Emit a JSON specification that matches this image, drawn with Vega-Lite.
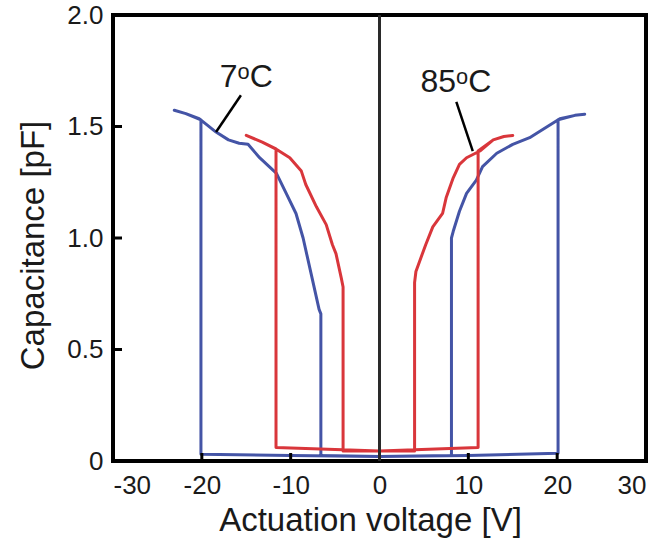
{
  "$schema": "https://vega.github.io/schema/vega-lite/v6.json",
  "width": 533,
  "height": 446,
  "autosize": {"type": "none"},
  "padding": {"left": 113, "top": 15, "right": 16, "bottom": 85},
  "background": "white",
  "config": {
    "font": "Liberation Sans",
    "view": {"stroke": "black", "strokeWidth": 4},
    "axis": {
      "grid": false,
      "domain": false,
      "ticks": false,
      "labelFont": "Liberation Sans",
      "labelFontSize": 26,
      "labelColor": "#1a1a1a",
      "titleFont": "Liberation Sans",
      "titleFontSize": 33,
      "titleFontWeight": "normal",
      "titleColor": "#1a1a1a"
    }
  },
  "datasets": {
    "curves": [
      {"series": "7 °C", "step": 1, "v": 0, "c": 0.02},
      {"series": "7 °C", "step": 2, "v": 10, "c": 0.025},
      {"series": "7 °C", "step": 3, "v": 20.1, "c": 0.035},
      {"series": "7 °C", "step": 4, "v": 20.1, "c": 1.53},
      {"series": "7 °C", "step": 5, "v": 22.0, "c": 1.55},
      {"series": "7 °C", "step": 6, "v": 23.1, "c": 1.555},
      {"series": "7 °C", "step": 7, "v": 22.0, "c": 1.55},
      {"series": "7 °C", "step": 8, "v": 20.3, "c": 1.535},
      {"series": "7 °C", "step": 9, "v": 17.7, "c": 1.47},
      {"series": "7 °C", "step": 10, "v": 16.9, "c": 1.45},
      {"series": "7 °C", "step": 11, "v": 15.0, "c": 1.42},
      {"series": "7 °C", "step": 12, "v": 13.2, "c": 1.38},
      {"series": "7 °C", "step": 13, "v": 11.6, "c": 1.32},
      {"series": "7 °C", "step": 14, "v": 10.9, "c": 1.26},
      {"series": "7 °C", "step": 15, "v": 9.8, "c": 1.2},
      {"series": "7 °C", "step": 16, "v": 9.0, "c": 1.12},
      {"series": "7 °C", "step": 17, "v": 8.3, "c": 1.03},
      {"series": "7 °C", "step": 18, "v": 8.1, "c": 1.0},
      {"series": "7 °C", "step": 19, "v": 8.1, "c": 0.025},
      {"series": "7 °C", "step": 20, "v": 0, "c": 0.02},
      {"series": "7 °C", "step": 21, "v": -10, "c": 0.025},
      {"series": "7 °C", "step": 22, "v": -20.1, "c": 0.03},
      {"series": "7 °C", "step": 23, "v": -20.1, "c": 1.53},
      {"series": "7 °C", "step": 24, "v": -21.8, "c": 1.558},
      {"series": "7 °C", "step": 25, "v": -23.1, "c": 1.573},
      {"series": "7 °C", "step": 26, "v": -21.8, "c": 1.558},
      {"series": "7 °C", "step": 27, "v": -20.3, "c": 1.535},
      {"series": "7 °C", "step": 28, "v": -18.4, "c": 1.475},
      {"series": "7 °C", "step": 29, "v": -17.0, "c": 1.44},
      {"series": "7 °C", "step": 30, "v": -15.8, "c": 1.425},
      {"series": "7 °C", "step": 31, "v": -14.8, "c": 1.42},
      {"series": "7 °C", "step": 32, "v": -13.5, "c": 1.36},
      {"series": "7 °C", "step": 33, "v": -11.6, "c": 1.29},
      {"series": "7 °C", "step": 34, "v": -10.5, "c": 1.2},
      {"series": "7 °C", "step": 35, "v": -9.4, "c": 1.11},
      {"series": "7 °C", "step": 36, "v": -8.6, "c": 1.0},
      {"series": "7 °C", "step": 37, "v": -7.7, "c": 0.84},
      {"series": "7 °C", "step": 38, "v": -6.8, "c": 0.68},
      {"series": "7 °C", "step": 39, "v": -6.6, "c": 0.66},
      {"series": "7 °C", "step": 40, "v": -6.6, "c": 0.025},
      {"series": "7 °C", "step": 41, "v": 0, "c": 0.02},

      {"series": "85 °C", "step": 1, "v": 0, "c": 0.045},
      {"series": "85 °C", "step": 2, "v": 11.1, "c": 0.06},
      {"series": "85 °C", "step": 3, "v": 11.1, "c": 1.39},
      {"series": "85 °C", "step": 4, "v": 12.8, "c": 1.44},
      {"series": "85 °C", "step": 5, "v": 14.0, "c": 1.455},
      {"series": "85 °C", "step": 6, "v": 15.0, "c": 1.46},
      {"series": "85 °C", "step": 7, "v": 14.0, "c": 1.455},
      {"series": "85 °C", "step": 8, "v": 12.8, "c": 1.44},
      {"series": "85 °C", "step": 9, "v": 11.3, "c": 1.39},
      {"series": "85 °C", "step": 10, "v": 9.8, "c": 1.36},
      {"series": "85 °C", "step": 11, "v": 9.0, "c": 1.33},
      {"series": "85 °C", "step": 12, "v": 8.3, "c": 1.27},
      {"series": "85 °C", "step": 13, "v": 7.5, "c": 1.18},
      {"series": "85 °C", "step": 14, "v": 7.1, "c": 1.11},
      {"series": "85 °C", "step": 15, "v": 6.0, "c": 1.05},
      {"series": "85 °C", "step": 16, "v": 5.2, "c": 0.97},
      {"series": "85 °C", "step": 17, "v": 4.1, "c": 0.85},
      {"series": "85 °C", "step": 18, "v": 3.95, "c": 0.8},
      {"series": "85 °C", "step": 19, "v": 3.95, "c": 0.045},
      {"series": "85 °C", "step": 20, "v": 0, "c": 0.045},
      {"series": "85 °C", "step": 21, "v": -11.65, "c": 0.06},
      {"series": "85 °C", "step": 22, "v": -11.65, "c": 1.4},
      {"series": "85 °C", "step": 23, "v": -13.2, "c": 1.43},
      {"series": "85 °C", "step": 24, "v": -15.0, "c": 1.46},
      {"series": "85 °C", "step": 25, "v": -13.2, "c": 1.43},
      {"series": "85 °C", "step": 26, "v": -11.7, "c": 1.4},
      {"series": "85 °C", "step": 27, "v": -10.1, "c": 1.36},
      {"series": "85 °C", "step": 28, "v": -8.8, "c": 1.3},
      {"series": "85 °C", "step": 29, "v": -8.3, "c": 1.24},
      {"series": "85 °C", "step": 30, "v": -7.1, "c": 1.14},
      {"series": "85 °C", "step": 31, "v": -6.0, "c": 1.06},
      {"series": "85 °C", "step": 32, "v": -5.3, "c": 0.97},
      {"series": "85 °C", "step": 33, "v": -4.9, "c": 0.93},
      {"series": "85 °C", "step": 34, "v": -4.3, "c": 0.82},
      {"series": "85 °C", "step": 35, "v": -4.1, "c": 0.78},
      {"series": "85 °C", "step": 36, "v": -4.1, "c": 0.045},
      {"series": "85 °C", "step": 37, "v": 0, "c": 0.045}
    ],
    "labels": [
      {"text": "7ᵒC", "v": -15.0, "c": 1.72},
      {"text": "85ᵒC", "v": 8.6, "c": 1.70}
    ],
    "leaders": [
      {"v": -15.6, "c": 1.64, "v2": -18.4, "c2": 1.475},
      {"v": 8.65, "c": 1.61, "v2": 10.5, "c2": 1.39}
    ],
    "yticks": [
      {"v": -30, "c": 0.5},
      {"v": -30, "c": 1.0},
      {"v": -30, "c": 1.5}
    ],
    "xticks": [
      {"v": -20, "c": 0},
      {"v": -10, "c": 0},
      {"v": 10, "c": 0},
      {"v": 20, "c": 0}
    ]
  },
  "layer": [
    {
      "data": {"name": "curves"},
      "mark": {"type": "line", "strokeWidth": 3, "strokeJoin": "round", "strokeCap": "round"},
      "encoding": {
        "x": {
          "field": "v", "type": "quantitative",
          "scale": {"domain": [-30, 30], "nice": false, "zero": false},
          "axis": {"values": [-30, -20, -10, 0, 10, 20, 30], "labelExpr": "'' + datum.value", "title": "Actuation voltage [V]", "labelPadding": 11, "titlePadding": 6, "titleX": 257}
        },
        "y": {
          "field": "c", "type": "quantitative",
          "scale": {"domain": [0, 2], "nice": false},
          "axis": {"values": [0, 0.5, 1, 1.5, 2], "labelExpr": "datum.value === 0 ? '0' : format(datum.value, '.1f')", "title": "Capacitance [pF]", "labelPadding": 10, "titleX": -63, "titleY": 230}
        },
        "color": {
          "field": "series", "type": "nominal",
          "scale": {"domain": ["7 °C", "85 °C"], "range": ["#4454a6", "#d9363b"]},
          "legend": null
        },
        "order": {"field": "step", "type": "quantitative"}
      }
    },
    {
      "data": {"values": [{"v": 0, "c": 0, "c2": 2}]},
      "mark": {"type": "rule", "color": "#2a2a2a", "strokeWidth": 3},
      "encoding": {
        "x": {"field": "v", "type": "quantitative"},
        "y": {"field": "c", "type": "quantitative"},
        "y2": {"field": "c2"}
      }
    },
    {
      "data": {"name": "yticks"},
      "mark": {"type": "tick", "orient": "horizontal", "size": 18, "thickness": 3, "color": "black", "opacity": 1, "clip": true},
      "encoding": {
        "x": {"field": "v", "type": "quantitative"},
        "y": {"field": "c", "type": "quantitative"}
      }
    },
    {
      "data": {"name": "xticks"},
      "mark": {"type": "tick", "orient": "vertical", "size": 16, "thickness": 3, "color": "black", "opacity": 1, "clip": true},
      "encoding": {
        "x": {"field": "v", "type": "quantitative"},
        "y": {"field": "c", "type": "quantitative"}
      }
    },
    {
      "data": {"name": "leaders"},
      "mark": {"type": "rule", "color": "black", "strokeWidth": 2.5},
      "encoding": {
        "x": {"field": "v", "type": "quantitative"},
        "y": {"field": "c", "type": "quantitative"},
        "x2": {"field": "v2"},
        "y2": {"field": "c2"}
      }
    },
    {
      "data": {"name": "labels"},
      "mark": {"type": "text", "font": "Liberation Sans", "fontSize": 32, "color": "#1a1a1a", "align": "center", "baseline": "middle"},
      "encoding": {
        "x": {"field": "v", "type": "quantitative"},
        "y": {"field": "c", "type": "quantitative"},
        "text": {"field": "text"}
      }
    }
  ]
}
